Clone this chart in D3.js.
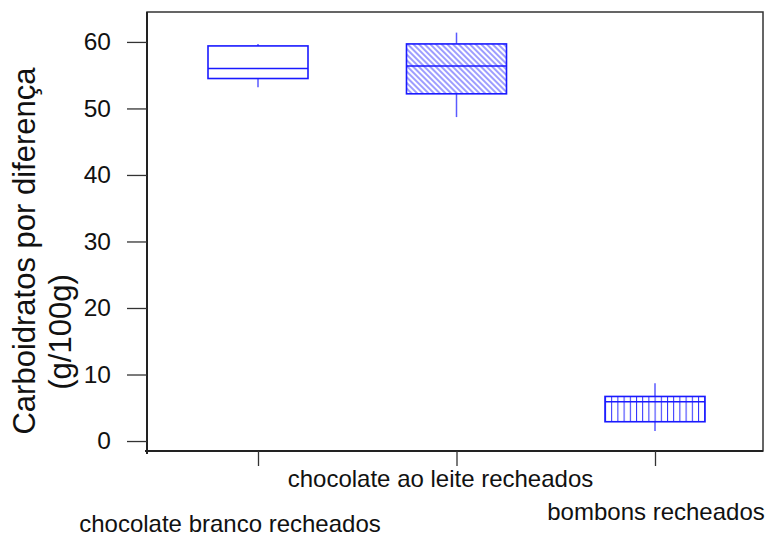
<!DOCTYPE html>
<html>
<head>
<meta charset="utf-8">
<script src="https://cdn.jsdelivr.net/npm/d3@7"></script>
<style>
    body { margin: 0; background: #fff; }
    text { font-family: "Liberation Sans", Arial, sans-serif; fill: #111; }
</style>
</head>
<body>
<div id="chart"></div>
<script>
const categories = ["chocolate branco recheados", "chocolate ao leite recheados", "bombons recheados"];
const whiskerLow = [53.2, 48.7, 1.5];
const q1 = [54.5, 52.2, 2.9];
const median = [56.0, 56.4, 5.9];
const q3 = [59.4, 59.7, 6.7];
const whiskerHigh = [59.7, 61.4, 8.7];
const yTicks = [0, 10, 20, 30, 40, 50, 60];
const fills = ["none", "diag", "vert"];

const W = 771, H = 539;
const frame = { left: 147, right: 763, top: 12, bottom: 451 };

const svg = d3.select("#chart").append("svg")
    .attr("width", W)
    .attr("height", H);

const y = d3.scaleLinear()
    .domain([-1.5, 64.5])
    .range([frame.bottom, frame.top]);

const x = d3.scalePoint()
    .domain(categories)
    .range([258, 655]);

const boxHalf = 50;
const blue = "#1a1aff";

// hatch patterns
const defs = svg.append("defs");
defs.append("pattern")
    .attr("id", "diag")
    .attr("patternUnits", "userSpaceOnUse")
    .attr("width", 4)
    .attr("height", 8)
    .attr("patternTransform", "rotate(-45)")
    .append("line")
    .attr("x1", 1).attr("y1", 0)
    .attr("x2", 1).attr("y2", 8)
    .attr("stroke", "#5c5cff")
    .attr("stroke-width", 1.2);

defs.append("pattern")
    .attr("id", "vert")
    .attr("patternUnits", "userSpaceOnUse")
    .attr("x", x(categories[2]) - boxHalf)
    .attr("width", 6.2)
    .attr("height", 10)
    .append("line")
    .attr("x1", 0.5).attr("y1", 0)
    .attr("x2", 0.5).attr("y2", 10)
    .attr("stroke", "#2a2aff")
    .attr("stroke-width", 1);

// frame
svg.append("rect")
    .attr("x", frame.left)
    .attr("y", frame.top)
    .attr("width", frame.right - frame.left)
    .attr("height", frame.bottom - frame.top)
    .attr("fill", "none")
    .attr("stroke", "#333")
    .attr("stroke-width", 1.5);

// y axis
const yAxis = svg.append("g")
    .attr("transform", `translate(${frame.left},0)`)
    .call(d3.axisLeft(y).tickValues(yTicks).tickSize(20).tickPadding(16));
yAxis.select(".domain")
    .attr("stroke", "#222")
    .attr("stroke-width", 2)
    .attr("d", `M0,${frame.top}V${frame.bottom + 3}`);
yAxis.selectAll(".tick line").attr("stroke", "#333").attr("stroke-width", 1.3);
yAxis.selectAll(".tick text")
    .style("font-size", "24.5px")
    .style("font-family", "'Liberation Sans', Arial, sans-serif")
    .attr("fill", "#111");

// x axis
const xAxis = svg.append("g")
    .attr("transform", `translate(0,${frame.bottom})`)
    .call(d3.axisBottom(x).tickSize(15).tickFormat(""));
xAxis.select(".domain")
    .attr("stroke", "#222")
    .attr("stroke-width", 2)
    .attr("d", `M${frame.left - 2},0H${frame.right}`);
xAxis.selectAll(".tick line").attr("stroke", "#333").attr("stroke-width", 1.3);

// staggered category labels
const labelDx = [-28, -16, 1];
const labelY = [532, 487, 520];
svg.selectAll(".cat-label")
    .data(categories)
    .enter()
    .append("text")
    .attr("class", "cat-label")
    .attr("x", (d, i) => x(d) + labelDx[i])
    .attr("y", (d, i) => labelY[i])
    .attr("text-anchor", "middle")
    .style("font-size", "24px")
    .text(d => d);

// axis title
svg.append("text")
    .attr("transform", "translate(35,251) rotate(-90)")
    .attr("text-anchor", "middle")
    .style("font-size", "31px")
    .text("Carboidratos por diferença");
svg.append("text")
    .attr("transform", "translate(71,332) rotate(-90)")
    .attr("text-anchor", "middle")
    .style("font-size", "31px")
    .text("(g/100g)");

// boxes
const boxes = svg.selectAll(".box")
    .data(categories)
    .enter()
    .append("g")
    .attr("class", "box");

boxes.append("line")
    .attr("x1", d => x(d)).attr("x2", d => x(d))
    .attr("y1", (d, i) => y(whiskerHigh[i]))
    .attr("y2", (d, i) => y(q3[i]))
    .attr("stroke", "#5a5aff")
    .attr("stroke-width", 1.5);

boxes.append("line")
    .attr("x1", d => x(d)).attr("x2", d => x(d))
    .attr("y1", (d, i) => y(q1[i]))
    .attr("y2", (d, i) => y(whiskerLow[i]))
    .attr("stroke", "#5a5aff")
    .attr("stroke-width", 1.5);

boxes.append("rect")
    .attr("x", d => x(d) - boxHalf)
    .attr("width", boxHalf * 2)
    .attr("y", (d, i) => y(q3[i]))
    .attr("height", (d, i) => y(q1[i]) - y(q3[i]))
    .attr("fill", (d, i) => fills[i] === "none" ? "#fff" : `url(#${fills[i]})`)
    .attr("stroke", blue)
    .attr("stroke-width", 1.6);

boxes.append("line")
    .attr("x1", d => x(d) - boxHalf)
    .attr("x2", d => x(d) + boxHalf)
    .attr("y1", (d, i) => y(median[i]))
    .attr("y2", (d, i) => y(median[i]))
    .attr("stroke", blue)
    .attr("stroke-width", 1.5);
</script>
</body>
</html>
